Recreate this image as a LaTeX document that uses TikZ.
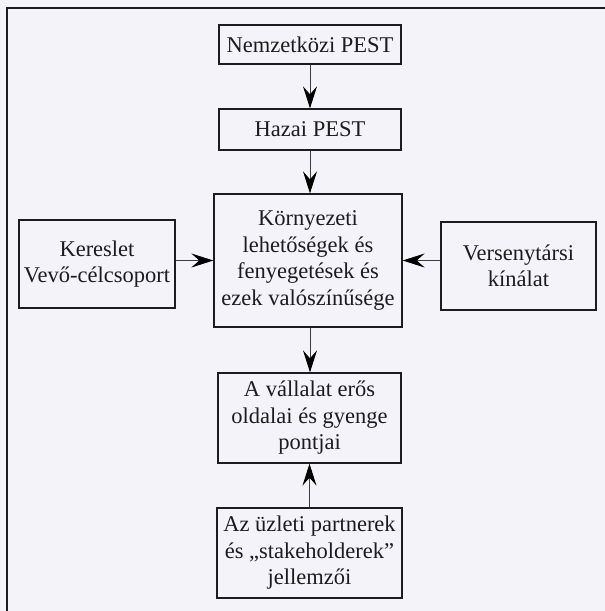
\documentclass[tikz,border=0pt]{standalone}
\usepackage{fontspec}
\setmainfont{Liberation Serif}
\usetikzlibrary{arrows.meta}
\definecolor{paper}{RGB}{243,243,249}
\definecolor{ink}{RGB}{28,28,32}
\definecolor{lineink}{RGB}{60,60,64}
\tikzset{
  box/.style={draw=ink, line width=1.3pt, rectangle, align=center, inner sep=0pt,
    font=\fontsize{22.5}{26.5}\selectfont, text=ink},
  arr/.style={draw=lineink, line width=0.9pt, -{Stealth[length=22pt,width=14pt,inset=8pt,color=black]}},
  frame/.style={draw=ink, line width=2pt}
}
\begin{document}
\begin{tikzpicture}[x=1pt,y=-1pt]
\useasboundingbox[fill=paper] (0,0) rectangle (605,611);
% outer frame (cropped)
\coordinate (fb) at (7,611);
\coordinate (fc) at (7,7.5);
\coordinate (fr) at (605,7.5);
\draw[frame] (fb) -- (fc) -- (fr);
% boxes
\node[box, minimum width=182pt, minimum height=39pt] (n1) at (310,44.5) {Nemzetközi PEST};
\node[box, minimum width=182pt, minimum height=41pt] (n2) at (310,129.5) {Hazai PEST};
\node[box, minimum width=188pt, minimum height=133pt] (n3) at (308,260.5) {Környezeti\\lehetőségek és\\fenyegetések és\\ezek valószínűsége};
\node[box, minimum width=156pt, minimum height=88pt] (n4) at (97,264) {Kereslet\\Vevő-célcsoport};
\node[box, minimum width=155pt, minimum height=88pt] (n5) at (518.5,266) {Versenytársi\\kínálat};
\node[box, minimum width=183pt, minimum height=90pt] (n6) at (309.5,418) {A vállalat erős\\oldalai és gyenge\\pontjai};
\node[box, minimum width=185pt, minimum height=90pt] (n7) at (309.5,553) {Az üzleti partnerek\\és „stakeholderek”\\jellemzői};
% connectors
\draw[arr] (n1.south) -- (n2.north);
\draw[arr] (n2.south) -- (n2.south |- n3.north);
\draw[arr] (n3.south -| n2.south) -- (n2.south |- n6.north);
\draw[arr] (n7.north) -- (n6.south);
\draw[arr] (n4.east |- n3.west) -- (n3.west);
\draw[arr] (n5.west |- n3.east) -- (n3.east);
\end{tikzpicture}
\end{document}
